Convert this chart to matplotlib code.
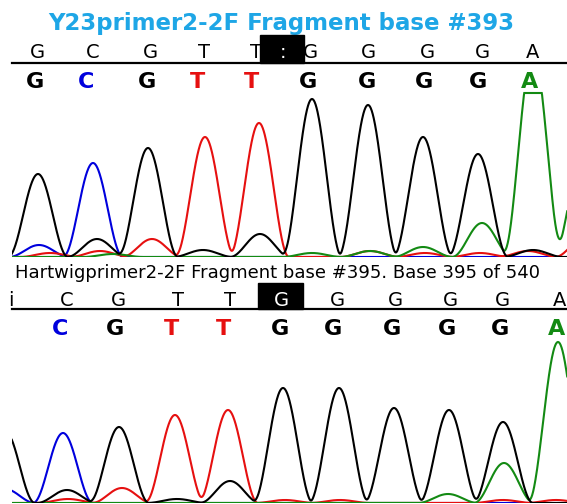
import matplotlib
matplotlib.use("Agg")
import matplotlib.pyplot as plt
import numpy as np
from matplotlib.patches import Rectangle

# base colours used by the trace viewer
base_colors = {"G": "#000000", "C": "#0000dd", "T": "#e61010", "A": "#138a13"}

# top read: Y23primer2-2F
top_title = "Y23primer2-2F Fragment base #393"
top_ref_bases = ["G", "C", "G", "T", "T", "G", "G", "G", "G", "A"]
top_ref_x = [37, 93, 150, 204, 256, 310, 368, 427, 482, 533]
top_call_bases = ["G", "C", "G", "T", "T", "G", "G", "G", "G", "A"]
top_call_x = [35, 86, 147, 198, 252, 308, 367, 424, 478, 530]
# peaks (scan position, signal)
top_G = [(38, 83), (148, 109), (312, 158), (368, 152), (423, 120), (478, 103),
         (97, 18), (203, 7), (260, 23), (533, 7)]
top_C = [(93, 94), (39, 12)]
top_T = [(205, 120), (259, 134), (50, 4), (100, 6), (152, 18), (370, 6),
         (425, 4), (480, 4), (528, 6), (585, 20)]
top_A = [(533, 205), (583, 100), (113, 3), (312, 4), (370, 6), (423, 10), (482, 34)]

# bottom read: Hartwigprimer2-2F
bot_title = "Hartwigprimer2-2F Fragment base #395. Base 395 of 540"
bot_ref_bases = ["i", "C", "G", "T", "T", "G", "G", "G", "G", "G", "A"]
bot_ref_x = [11, 67, 118, 178, 230, 282, 337, 395, 450, 502, 560]
bot_call_bases = ["C", "G", "T", "T", "G", "G", "G", "G", "G", "A"]
bot_call_x = [60, 115, 172, 223, 280, 333, 392, 447, 500, 557]
bot_G = [(5, 72), (119, 76), (283, 115), (339, 115), (394, 95), (449, 93), (503, 81),
         (67, 13), (177, 4), (230, 22)]
bot_C = [(63, 70), (5, 14)]
bot_T = [(175, 88), (228, 93), (68, 4), (122, 15), (285, 3), (340, 3), (503, 3), (556, 3)]
bot_A = [(558, 161), (448, 9), (504, 40)]

W, H = 567, 504
fig = plt.figure(figsize=(W / 100, H / 100), dpi=100)
fig.patch.set_facecolor("white")

scan = np.linspace(-40, 620, 2000)


def trace(peaks, ceiling):
    y = np.zeros_like(scan)
    for pos, amp in peaks:
        d = np.abs(scan - pos)
        y += np.where(d < 30, amp * np.cos(np.pi * d / 60) ** 2, 0)
    return np.minimum(y, ceiling)


def trace_axes(y_top, y_base, peaks_by_base, ceiling):
    ax = fig.add_axes([12 / W, 1 - y_base / H, (W - 12) / W, (y_base - y_top) / H])
    for b in ["C", "T", "A", "G"]:
        ax.plot(scan, trace(peaks_by_base[b], ceiling), color=base_colors[b], lw=1.5,
                solid_joinstyle="miter")
    ax.set_xlim(12, W)
    ax.set_ylim(0, y_base - y_top)
    ax.axis("off")
    return ax


trace_axes(87, 257, {"G": top_G, "C": top_C, "T": top_T, "A": top_A}, 164)
trace_axes(335, 503, {"G": bot_G, "C": bot_C, "T": bot_T, "A": bot_A}, 168)

# overlay in pixel units for labels, rules and highlight boxes
ov = fig.add_axes([0, 0, 1, 1])
ov.set_xlim(0, W)
ov.set_ylim(H, 0)
ov.axis("off")
ov.patch.set_alpha(0)

thin = dict(fontsize=14, ha="center", va="baseline")
bold = dict(fontsize=16, fontweight="bold", ha="center", va="baseline")

# top panel
ov.text(281, 30, top_title, color="#1ea6e6", fontsize=16.5, fontweight="bold",
        ha="center", va="baseline")
for b, x in zip(top_ref_bases, top_ref_x):
    ov.text(x, 58, b, color="black", **thin)
ov.add_patch(Rectangle((260, 35), 44, 28, color="black", zorder=3))
ov.text(283, 58, ":", color="white", zorder=4, **thin)
ov.plot([12, W], [63, 63], color="black", lw=1.6)
for b, x in zip(top_call_bases, top_call_x):
    ov.text(x, 88, b, color=base_colors[b], **bold)

# bottom panel
ov.text(15, 278, bot_title, color="black", fontsize=13, ha="left", va="baseline")
for b, x in zip(bot_ref_bases, bot_ref_x):
    ov.text(x, 306, b, color="black", **thin)
ov.add_patch(Rectangle((258, 283), 45, 26, color="black", zorder=3))
ov.text(281, 306, "G", color="white", zorder=4, **thin)
ov.plot([12, W], [309, 309], color="black", lw=1.6)
for b, x in zip(bot_call_bases, bot_call_x):
    ov.text(x, 335, b, color=base_colors[b], **bold)

fig.savefig("out.png", dpi=100, facecolor="white")
